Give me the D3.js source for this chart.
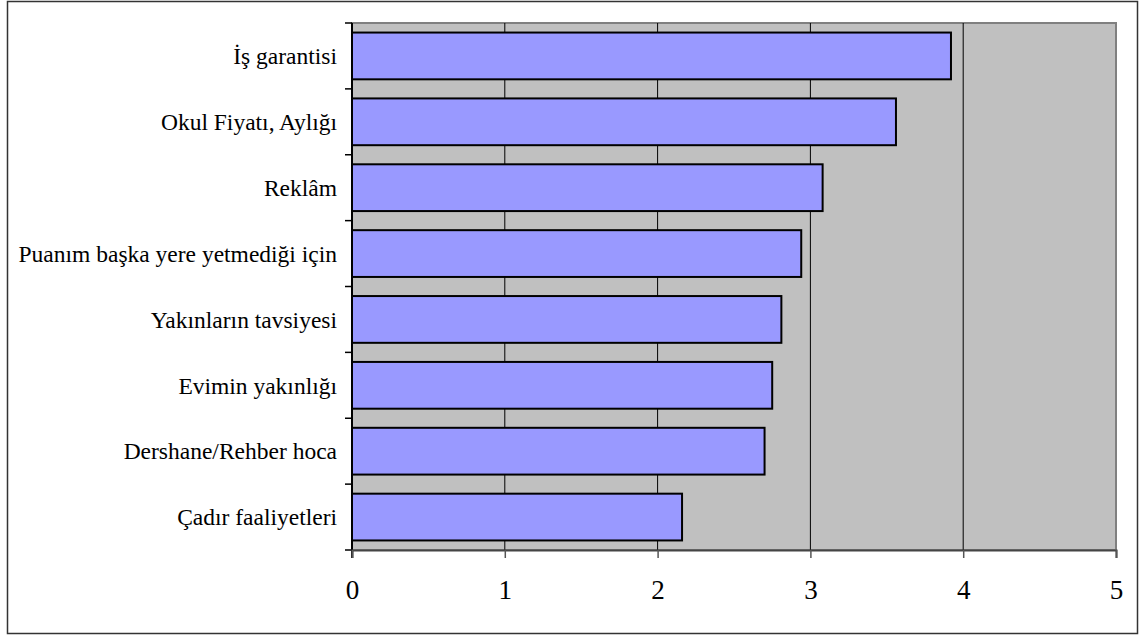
<!DOCTYPE html>
<html>
<head>
<meta charset="utf-8">
<script src="https://cdn.jsdelivr.net/npm/d3@7"></script>
<style>
  body { margin: 0; background: #fff; }
  svg text { font-family: "Liberation Serif", "LiberationSerif", "Tinos", "Times New Roman", "DejaVu Serif", serif; }
</style>
</head>
<body>
<div id="chart"></div>
<script>
// categories top to bottom
const categories = [
  "İş garantisi",
  "Okul Fiyatı, Aylığı",
  "Reklâm",
  "Puanım başka yere yetmediği için",
  "Yakınların tavsiyesi",
  "Evimin yakınlığı",
  "Dershane/Rehber hoca",
  "Çadır faaliyetleri"
];
const values = [3.92, 3.56, 3.08, 2.94, 2.81, 2.75, 2.70, 2.16];
const xTicks = [0, 1, 2, 3, 4, 5];

const width = 1139, height = 637;
const plot = { left: 352, right: 1116, top: 23, bottom: 550 };

const svg = d3.select('#chart').append('svg')
  .attr('width', width)
  .attr('height', height);

// outer frame
svg.append('rect')
  .attr('x', 7.5).attr('y', 1.5)
  .attr('width', 1130).attr('height', 632)
  .attr('fill', 'none')
  .attr('stroke', '#333')
  .attr('stroke-width', 1.5);

const x = d3.scaleLinear().domain([0, 5]).range([plot.left, plot.right]);
const y = d3.scaleBand().domain(categories).range([plot.top, plot.bottom])
  .paddingInner(0.29).paddingOuter(0.145);
const yOuter = d3.scaleBand().domain(categories).range([plot.top, plot.bottom]);

// plot background
svg.append('rect')
  .attr('x', plot.left).attr('y', plot.top)
  .attr('width', plot.right - plot.left).attr('height', plot.bottom - plot.top)
  .attr('fill', '#c0c0c0')
  .attr('stroke', '#808080')
  .attr('stroke-width', 2);

// gridlines
svg.selectAll('line.grid')
  .data(xTicks.slice(1, -1))
  .enter().append('line')
    .attr('class', 'grid')
    .attr('x1', d => x(d)).attr('x2', d => x(d))
    .attr('y1', plot.top).attr('y2', plot.bottom)
    .attr('stroke', '#000')
    .attr('stroke-width', 1);

// bars
svg.selectAll('rect.bar')
  .data(values)
  .enter().append('rect')
    .attr('class', 'bar')
    .attr('x', x(0))
    .attr('y', (d, i) => y(categories[i]))
    .attr('width', d => x(d) - x(0))
    .attr('height', y.bandwidth())
    .attr('fill', '#9999ff')
    .attr('stroke', '#000')
    .attr('stroke-width', 2);

// y axis: ticks at band boundaries
const bounds = categories.map(c => yOuter(c)).concat([plot.bottom]);
svg.append('line')
  .attr('x1', plot.left).attr('x2', plot.left)
  .attr('y1', plot.top).attr('y2', plot.bottom + 8)
  .attr('stroke', '#000').attr('stroke-width', 2);
svg.selectAll('line.ytick')
  .data(bounds)
  .enter().append('line')
    .attr('class', 'ytick')
    .attr('x1', plot.left - 7).attr('x2', plot.left)
    .attr('y1', d => d).attr('y2', d => d)
    .attr('stroke', '#000').attr('stroke-width', 1.5);

const labels = svg.selectAll('text.cat')
  .data(categories)
  .enter().append('text')
    .attr('class', 'cat')
    .attr('x', 337)
    .attr('y', d => yOuter(d) + yOuter.bandwidth() / 2)
    .attr('dy', '0.35em')
    .attr('text-anchor', 'end')
    .style('font-size', '20px')
    .text(d => d);

// fit the longest label to the width it has in the original (about 319px)
const longest = labels.filter(d => d === categories[3]).node();
const fs = 20 * 319 / longest.getComputedTextLength();
labels.style('font-size', fs.toFixed(1) + 'px');

// x axis
const xAxis = d3.axisBottom(x).tickValues(xTicks).tickSize(8).tickFormat(d3.format('d'));
const gx = svg.append('g')
  .attr('transform', `translate(0,${plot.bottom})`)
  .call(xAxis)
  .attr('font-family', null)
  .attr('font-size', null);
gx.select('.domain').attr('stroke', '#444').attr('stroke-width', 2);
gx.selectAll('.tick line').attr('stroke', '#555').attr('stroke-width', 1.5);
gx.selectAll('.tick text')
  .attr('dy', 0)
  .attr('y', 49)
  .attr('fill', '#000')
  .style('font-size', (fs * 1.15).toFixed(1) + 'px');
</script>
</body>
</html>
